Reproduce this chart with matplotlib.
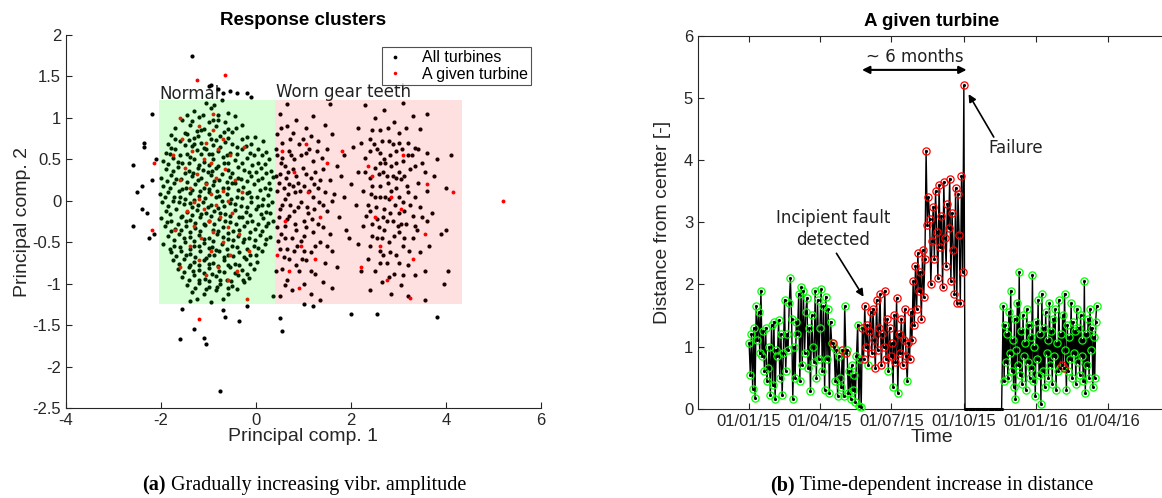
import numpy as np
import matplotlib
matplotlib.use("Agg")
import matplotlib.pyplot as plt
from matplotlib.patches import Rectangle

plt.rcParams['font.family'] = ['Liberation Sans', 'DejaVu Sans']

# ---------------------------------------------------------------------------
# (a) PCA scores of the vibration response
# ---------------------------------------------------------------------------
normal_pts = [
    (-1.05, 1.18), (-0.72, 1.21), (-0.88, 1.15), (-1.3, 1.08), (-0.95, 1.12), (-0.6, 1.06), (-1.12, 1.03),
    (-1.55, 0.98), (-1.2, 1.01), (-0.8, 0.97), (-0.45, 1.02), (-1.0, 0.95),
    (-1.7, 0.88), (-1.4, 0.92), (-1.1, 0.86), (-0.85, 0.9), (-0.6, 0.87), (-0.3, 0.91), (-1.25, 0.84),
    (-1.8, 0.79), (-1.5, 0.82), (-1.3, 0.76), (-1.0, 0.8), (-0.75, 0.78), (-0.5, 0.83), (-0.2, 0.77), (-0.95, 0.74),
    (-1.85, 0.68), (-1.6, 0.72), (-1.35, 0.66), (-1.15, 0.7), (-0.9, 0.67), (-0.65, 0.71), (-0.4, 0.65), (-0.1, 0.69),
    (-1.05, 0.63), (0.15, 0.72),
    (-1.9, 0.58), (-1.7, 0.62), (-1.45, 0.57), (-1.25, 0.61), (-1.0, 0.56), (-0.8, 0.6), (-0.55, 0.58), (-0.3, 0.62),
    (-0.05, 0.55), (0.2, 0.59), (-0.7, 0.53),
    (-1.95, 0.48), (-1.75, 0.52), (-1.55, 0.46), (-1.3, 0.51), (-1.1, 0.47), (-0.9, 0.5), (-0.68, 0.45), (-0.45, 0.49),
    (-0.2, 0.52), (0.05, 0.46), (0.28, 0.5), (-1.2, 0.43), (-0.8, 0.42),
    (-1.9, 0.38), (-1.65, 0.41), (-1.42, 0.36), (-1.22, 0.39), (-1.02, 0.35), (-0.85, 0.4), (-0.6, 0.37), (-0.38, 0.41),
    (-0.15, 0.35), (0.1, 0.39), (0.32, 0.36), (-1.5, 0.33), (-0.72, 0.32),
    (-2.0, 0.28), (-1.8, 0.31), (-1.58, 0.26), (-1.35, 0.3), (-1.15, 0.27), (-0.95, 0.31), (-0.78, 0.25), (-0.55, 0.29),
    (-0.32, 0.26), (-0.1, 0.3), (0.12, 0.27), (0.35, 0.29), (-1.05, 0.22), (-0.45, 0.22),
    (-1.95, 0.18), (-1.72, 0.21), (-1.48, 0.16), (-1.28, 0.2), (-1.1, 0.15), (-0.9, 0.19), (-0.7, 0.16), (-0.5, 0.21),
    (-0.28, 0.17), (-0.05, 0.2), (0.18, 0.16), (-1.62, 0.12), (-0.82, 0.12), (-0.15, 0.11),
    (-2.02, 0.08), (-1.85, 0.1), (-1.6, 0.05), (-1.4, 0.09), (-1.2, 0.06), (-1.0, 0.1), (-0.85, 0.04), (-0.62, 0.08),
    (-0.4, 0.05), (-0.2, 0.09), (0.02, 0.04), (0.25, 0.07), (-1.3, 0.01), (-0.72, 0.0),
    (-1.98, -0.02), (-1.75, 0.0), (-1.52, -0.04), (-1.12, -0.01), (-0.95, -0.05), (-0.55, -0.03), (-0.32, -0.06),
    (-0.1, -0.02), (0.12, -0.05), (0.33, -0.01), (-1.35, -0.08), (-0.8, -0.09),
    (-1.9, -0.12), (-1.68, -0.1), (-1.45, -0.14), (-1.25, -0.11), (-1.05, -0.15), (-0.88, -0.12), (-0.65, -0.16),
    (-0.45, -0.11), (-0.22, -0.14), (0.0, -0.1), (0.22, -0.13), (-1.55, -0.18), (-0.35, -0.19),
    (-2.0, -0.21), (-1.78, -0.24), (-1.58, -0.2), (-1.38, -0.23), (-1.18, -0.19), (-0.98, -0.25), (-0.78, -0.22),
    (-0.55, -0.26), (-0.3, -0.2), (-0.08, -0.24), (0.15, -0.21), (0.36, -0.25), (-1.1, -0.28),
    (-1.92, -0.31), (-1.7, -0.34), (-1.48, -0.3), (-1.28, -0.33), (-1.08, -0.29), (-0.9, -0.35), (-0.7, -0.32),
    (-0.48, -0.36), (-0.25, -0.3), (-0.02, -0.34), (0.2, -0.31), (-0.6, -0.39),
    (-1.85, -0.42), (-1.62, -0.4), (-1.4, -0.44), (-1.2, -0.41), (-1.0, -0.45), (-0.82, -0.4), (-0.6, -0.46),
    (-0.38, -0.42), (-0.15, -0.45), (0.08, -0.41), (0.3, -0.44), (-1.3, -0.48),
    (-1.95, -0.52), (-1.72, -0.55), (-1.5, -0.5), (-1.3, -0.54), (-1.1, -0.51), (-0.92, -0.56), (-0.72, -0.52),
    (-0.5, -0.55), (-0.28, -0.5), (-0.05, -0.54), (0.18, -0.52), (-0.85, -0.59),
    (-1.8, -0.62), (-1.58, -0.6), (-1.38, -0.64), (-1.18, -0.61), (-0.98, -0.65), (-0.78, -0.6), (-0.58, -0.66),
    (-0.35, -0.62), (-0.12, -0.65), (0.12, -0.61), (-1.05, -0.69),
    (-1.75, -0.72), (-1.52, -0.7), (-1.3, -0.74), (-1.1, -0.71), (-0.9, -0.75), (-0.68, -0.72), (-0.45, -0.76),
    (-0.22, -0.7), (0.02, -0.74), (-0.8, -0.79),
    (-1.65, -0.82), (-1.42, -0.8), (-1.2, -0.84), (-1.0, -0.81), (-0.78, -0.85), (-0.55, -0.8), (-0.3, -0.84),
    (-0.05, -0.82), (-0.92, -0.88),
    (-1.55, -0.92), (-1.3, -0.9), (-1.08, -0.94), (-0.85, -0.91), (-0.62, -0.95), (-0.38, -0.9), (-0.15, -0.93),
    (-1.45, -1.02), (-1.2, -0.99), (-0.98, -1.04), (-0.75, -1.0), (-0.5, -1.03), (-0.25, -0.98),
    (-1.35, -1.1), (-1.1, -1.13), (-0.85, -1.08), (-0.6, -1.12), (-0.4, -1.07),
    (-1.25, -1.19), (-0.95, -1.22), (-0.7, -1.18), (-1.4, -1.21),
]

normal_core_pts = [
    (-1.15, 0.85), (-0.68, 0.83), (-0.42, 0.88), (-1.45, 0.8),
    (-1.7, 0.75), (-1.42, 0.73), (-1.22, 0.78), (-0.85, 0.73), (-0.58, 0.76), (-0.3, 0.74), (-0.02, 0.77),
    (-1.78, 0.64), (-1.5, 0.67), (-1.3, 0.69), (-1.1, 0.64), (-0.75, 0.65), (-0.5, 0.68), (-0.22, 0.66), (0.05, 0.63),
    (-1.82, 0.56), (-1.6, 0.55), (-1.38, 0.53), (-1.15, 0.56), (-0.92, 0.57), (-0.62, 0.55), (-0.4, 0.56),
    (-0.12, 0.58), (0.12, 0.55),
    (-1.85, 0.44), (-1.65, 0.47), (-1.42, 0.45), (-1.0, 0.43), (-0.58, 0.46), (-0.3, 0.45), (-0.08, 0.43), (0.18, 0.44),
    (-1.75, 0.36), (-1.32, 0.34), (-1.12, 0.37), (-0.92, 0.36), (-0.5, 0.34), (-0.25, 0.37), (0.0, 0.35), (0.22, 0.33),
    (-1.88, 0.24), (-1.68, 0.26), (-1.45, 0.23), (-1.22, 0.25), (-0.88, 0.24), (-0.62, 0.23), (-0.38, 0.27),
    (-0.18, 0.24), (0.05, 0.25), (0.28, 0.22),
    (-1.82, 0.15), (-1.55, 0.14), (-1.35, 0.13), (-1.18, 0.12), (-0.98, 0.14), (-0.6, 0.15), (-0.38, 0.13),
    (0.08, 0.13), (0.3, 0.14),
    (-1.92, 0.04), (-1.72, 0.05), (-1.5, 0.02), (-1.08, 0.03), (-0.78, 0.06), (-0.52, 0.02), (-0.3, 0.03),
    (-0.1, 0.05), (0.15, 0.02), (-1.62, -0.02),
    (-1.85, -0.06), (-1.4, -0.03), (-1.22, -0.05), (-1.02, -0.07), (-0.68, -0.06), (-0.45, -0.04), (-0.2, -0.07),
    (0.05, -0.06), (0.25, -0.05),
    (-1.82, -0.16), (-1.35, -0.17), (-1.15, -0.16), (-0.95, -0.18), (-0.75, -0.15), (-0.55, -0.18), (-0.12, -0.17),
    (0.1, -0.16), (0.3, -0.15),
    (-1.88, -0.26), (-1.65, -0.28), (-1.48, -0.25), (-1.28, -0.27), (-0.88, -0.28), (-0.65, -0.25), (-0.42, -0.28),
    (-0.18, -0.26), (0.05, -0.28), (0.26, -0.27),
    (-1.8, -0.37), (-1.58, -0.35), (-1.38, -0.38), (-1.18, -0.36), (-0.8, -0.36), (-0.35, -0.35), (-0.12, -0.38),
    (0.12, -0.36),
    (-1.72, -0.47), (-1.52, -0.45), (-1.1, -0.46), (-0.9, -0.48), (-0.7, -0.44), (-0.48, -0.47), (-0.25, -0.46),
    (-0.02, -0.47), (0.22, -0.46),
    (-1.82, -0.58), (-1.6, -0.56), (-1.4, -0.58), (-1.2, -0.55), (-1.0, -0.57), (-0.62, -0.58), (-0.4, -0.56),
    (-0.18, -0.58), (0.05, -0.57),
    (-1.68, -0.67), (-1.48, -0.66), (-1.28, -0.68), (-0.88, -0.66), (-0.68, -0.68), (-0.48, -0.67), (-0.25, -0.68),
    (0.0, -0.66),
    (-1.62, -0.76), (-1.4, -0.78), (-1.2, -0.77), (-1.0, -0.76), (-0.58, -0.77), (-0.35, -0.78), (-0.12, -0.76),
    (-1.52, -0.86), (-1.32, -0.85), (-1.1, -0.87), (-0.68, -0.86), (-0.45, -0.87), (-0.2, -0.88),
    (-1.42, -0.96), (-1.2, -0.95), (-0.98, -0.97), (-0.75, -0.95), (-0.52, -0.97), (-0.28, -0.95),
    (-1.28, -1.05), (-1.05, -1.06), (-0.82, -1.04), (-0.58, -1.05),
    (-1.35, 0.96), (-0.65, 0.95), (-0.9, 0.98), (-0.8, 1.04), (-1.45, 1.03),
]

worn_mid_pts = [
    (0.5, 1.05), (0.85, 0.98), (1.2, 1.02), (0.65, 0.9), (1.05, 0.88), (1.45, 0.92), (0.45, 0.8), (0.78, 0.82),
    (1.15, 0.78), (1.6, 0.8), (0.55, 0.7), (0.9, 0.68), (1.3, 0.72), (0.7, 0.6), (1.05, 0.58), (1.5, 0.62),
    (0.45, 0.55), (1.85, 0.55), (0.8, 0.5), (1.2, 0.48), (0.6, 0.42), (0.98, 0.4), (1.4, 0.38), (1.7, 0.42),
    (0.5, 0.32), (0.85, 0.3), (1.15, 0.28), (1.55, 0.25), (0.7, 0.2), (1.0, 0.18), (1.3, 0.15), (0.45, 0.12),
    (0.82, 0.1), (1.2, 0.05), (1.65, 0.08), (0.6, 0.02), (0.95, -0.02), (1.4, -0.05), (0.5, -0.1), (0.8, -0.12),
    (1.1, -0.15), (1.5, -0.12), (0.65, -0.22), (1.0, -0.25), (1.3, -0.28), (1.75, -0.2), (0.45, -0.32),
    (0.85, -0.35), (1.2, -0.38), (1.55, -0.4), (0.6, -0.45), (0.95, -0.48), (1.35, -0.5), (0.5, -0.58),
    (0.8, -0.6), (1.15, -0.62), (1.6, -0.6), (0.7, -0.7), (1.05, -0.72), (1.45, -0.75), (0.55, -0.82),
    (0.9, -0.85), (1.25, -0.88), (0.65, -0.95), (1.0, -1.0), (1.4, -0.98), (0.75, -1.08), (1.15, -1.12),
    (0.5, -1.15), (1.6, -1.05), (0.42, 0.62), (0.58, 0.15), (0.72, -0.05), (0.88, 0.22), (1.08, -0.08),
    (1.25, 0.35), (0.62, -0.3), (0.78, 0.38), (1.02, -0.42), (0.52, 0.45), (0.92, 0.12), (1.18, -0.22),
    (0.68, 0.08), (0.48, -0.2), (0.86, -0.55), (1.32, -0.02), (0.74, 0.55), (1.12, 0.62), (1.78, 0.3),
    (1.9, -0.35), (1.7, -0.8), (1.85, 0.05), (0.58, -0.68), (0.98, 0.75), (1.38, 0.52), (0.46, -0.48),
    (0.82, -0.28), (1.22, 0.2), (0.64, 0.28), (0.96, -0.7),
    (0.52, 0.88), (0.72, 0.75), (0.95, 0.55), (1.28, 0.6), (0.55, 0.52), (0.68, 0.35), (1.05, 0.32),
    (1.35, 0.25), (0.48, 0.22), (0.78, 0.18), (1.12, 0.12), (1.45, 0.1), (0.55, -0.05), (0.88, -0.08),
    (1.22, -0.1), (0.7, -0.18), (1.05, -0.32), (1.4, -0.32), (0.52, -0.4), (0.75, -0.45), (1.25, -0.55),
    (0.65, -0.58), (1.0, -0.6), (0.85, -0.78), (1.15, -0.85), (0.6, -1.02), (0.42, -0.85), (1.5, -0.55),
    (1.6, 0.0), (0.42, 0.3),
]

worn_far_pts = [
    (2.3, 1.15), (2.7, 1.1), (3.1, 1.18), (2.5, 1.0), (2.9, 0.95), (3.3, 1.02), (2.15, 0.88), (2.6, 0.85),
    (3.0, 0.82), (3.45, 0.86), (2.4, 0.75), (2.8, 0.72), (3.2, 0.7), (2.05, 0.65), (2.55, 0.62), (2.95, 0.6),
    (3.35, 0.64), (3.6, 0.58), (2.3, 0.52), (2.7, 0.5), (3.1, 0.48), (2.5, 0.4), (2.85, 0.42), (3.25, 0.38),
    (2.15, 0.35), (3.55, 0.35), (2.4, 0.28), (2.75, 0.3), (3.05, 0.26), (3.4, 0.22), (2.6, 0.18), (2.95, 0.15),
    (2.25, 0.12), (3.2, 0.1), (3.6, 0.12), (2.5, 0.05), (2.8, 0.02), (3.1, -0.02), (2.1, -0.05), (3.45, -0.08),
    (2.4, -0.12), (2.7, -0.1), (3.0, -0.15), (3.3, -0.18), (2.55, -0.22), (2.88, -0.25), (3.15, -0.28),
    (2.25, -0.3), (3.6, -0.25), (2.7, -0.35), (3.0, -0.38), (2.45, -0.42), (3.3, -0.45), (2.8, -0.5),
    (2.15, -0.52), (3.1, -0.55), (2.6, -0.6), (2.95, -0.65), (3.45, -0.62), (2.35, -0.7), (2.75, -0.75),
    (3.2, -0.78), (2.5, -0.85), (2.9, -0.88), (3.35, -0.9), (2.65, -0.98), (3.05, -1.02), (2.4, -1.08),
    (2.85, -1.12), (3.2, -1.15), (2.62, 0.58), (2.78, 0.22), (2.92, -0.05), (2.68, -0.2), (3.02, 0.35),
    (2.52, -0.08), (2.88, 0.68), (3.12, -0.45), (2.58, 0.32), (2.82, -0.62), (3.28, 0.55), (2.42, 0.08),
    (3.18, 0.18), (2.72, 0.45), (2.98, -0.3), (2.32, -0.18), (3.38, -0.35), (2.65, -0.45), (3.08, 0.62),
    (2.48, 0.68), (2.95, 0.28), (2.72, 0.05), (3.25, -0.05), (2.58, -0.32), (2.85, 0.12), (3.5, 0.45),
    (3.7, -0.15), (3.75, 0.3), (2.0, 0.2), (1.95, -0.45), (3.65, -0.55), (3.55, -0.85), (2.2, -0.85),
    (3.8, 0.5), (3.9, -0.4),
    (2.45, 0.85), (2.78, 0.88), (3.15, 0.88), (2.65, 0.72), (3.0, 0.7), (2.4, 0.6), (2.82, 0.55), (3.2, 0.55),
    (2.6, 0.45), (2.95, 0.45), (3.35, 0.42), (2.45, 0.18), (2.68, 0.35), (2.88, 0.3), (3.12, 0.3), (2.62, 0.05),
    (3.0, 0.05), (3.35, 0.05), (2.35, -0.05), (2.82, -0.15), (3.12, -0.12), (2.45, -0.28), (2.75, -0.25),
    (3.05, -0.28), (3.35, -0.3), (2.55, -0.45), (2.9, -0.42), (3.22, -0.6), (2.68, -0.65), (3.0, -0.75),
    (2.4, -0.55), (2.6, -0.75), (2.8, -0.92), (3.1, -0.9), (2.3, 0.35), (3.5, -0.2), (3.42, 0.62), (2.2, 0.7),
]

outlier_pts = [
    (-2.6, 0.43), (-2.6, -0.3), (-2.5, 0.1), (-2.4, -0.1), (-2.35, 0.7), (-2.35, 0.65), (-2.3, -0.15),
    (-2.2, 1.05), (-2.2, 0.25), (-2.15, -0.4), (-2.1, 0.5), (-2.25, -0.45), (-2.4, 0.18),
    (-1.35, 1.75), (-1.0, 1.38), (-0.95, 1.4), (-0.7, 1.3), (-0.4, 1.3), (-0.55, 1.33), (-0.2, 1.3),
    (-0.1, 1.25), (-0.8, 1.35),
    (-1.55, -1.3), (-1.3, -1.55), (-1.6, -1.67), (-1.1, -1.65), (-1.05, -1.73), (-0.35, -1.45), (-0.65, -1.4),
    (-0.7, -1.32), (-0.75, -2.3), (-0.2, -1.27),
    (0.5, -1.42), (0.55, -1.57), (1.0, -1.25), (1.2, -1.27), (2.0, -1.37), (2.55, -1.37), (3.8, -1.4),
    (3.55, -1.2), (1.35, -1.2), (0.65, 1.17), (1.55, 1.17), (3.6, 1.05), (4.1, 0.55), (4.0, -0.35),
    (4.05, -0.85), (3.95, -1.0), (4.0, 0.15), (0.35, -1.15),
]

turbine_pts = [
    (-1.2, 0.9), (-0.9, 0.85), (-0.7, 0.75), (-1.05, 0.7), (-1.35, 0.6), (-0.8, 0.62), (-0.55, 0.55),
    (-1.1, 0.5), (-0.95, 0.45), (-1.5, 0.4), (-0.65, 0.38), (-1.25, 0.32), (-0.85, 0.28), (-0.45, 0.25),
    (-1.05, 0.2), (-1.4, 0.15), (-0.7, 0.12), (-0.95, 0.08), (-1.2, 0.02), (-0.6, 0.0), (-0.85, -0.05),
    (-1.1, -0.1), (-1.45, -0.12), (-0.5, -0.15), (-0.75, -0.2), (-1.0, -0.25), (-1.3, -0.3), (-0.6, -0.32),
    (-0.9, -0.38), (-1.15, -0.45), (-0.7, -0.5), (-1.4, -0.55), (-0.95, -0.6), (-0.55, -0.65), (-1.2, -0.72),
    (-0.8, -0.8), (-1.05, -0.9), (-0.6, -0.95), (-1.3, -0.02), (-0.3, 0.1), (-1.6, 0.25), (-0.35, -0.4),
    (-1.7, -0.35), (-0.25, 0.65), (-1.55, 0.75), (-0.9, 1.05), (-1.75, 0.55), (-0.15, -0.6), (-0.4, -0.85),
    (-1.6, -0.8),
    (-1.25, 1.46), (-0.65, 1.52), (-1.2, -1.43), (-2.2, -0.35), (-2.15, 0.45), (-0.2, -1.18), (-1.6, 1.0),
    (0.55, 0.6), (0.8, 0.35), (1.1, 0.1), (0.6, -0.25), (0.95, -0.55), (1.25, -0.7), (0.7, -0.85),
    (1.5, 0.45), (1.35, -0.2), (0.45, -0.65), (0.9, -1.05), (1.05, 0.68),
    (2.45, 0.3), (2.85, 0.05), (3.1, 0.55), (2.6, -0.55), (3.3, -0.7), (2.75, -0.95), (3.55, -0.4),
    (3.6, 0.2), (2.5, -0.2), (3.05, -0.1), (1.8, 0.6), (2.2, -0.8), (3.25, -1.17), (2.35, 0.42),
    (4.15, 0.1), (5.2, 0.0),
]

# cluster regions: (x0, x1), shared y-range
normal_span = (-2.04, 0.40)
worn_span = (0.40, 4.34)
region_y = (-1.25, 1.22)

# ---------------------------------------------------------------------------
# (b) Distance from the cluster centre for one turbine (days since 01/01/15)
# ---------------------------------------------------------------------------
pre_start, pre_step = 0.0, 1.5
pre_vals = [
    1.05, 0.55, 1.2, 0.32, 1.3, 0.18, 1.65, 1.1, 1.55, 0.9, 1.9, 0.85, 1.25, 0.6, 1.3, 0.45, 0.65, 1.0, 0.22, 1.35,
    0.38, 1.4, 0.15, 0.95, 0.85, 1.42, 0.5, 1.2, 0.22, 0.9, 1.75, 0.6, 1.2, 0.95, 1.7, 2.1, 1.45, 0.15, 1.0, 0.5,
    1.4, 1.2, 1.85, 0.45, 1.95, 0.7, 1.9, 0.9, 1.55, 1.78, 0.65, 1.3, 0.28, 1.5, 1.0, 0.75, 1.9, 0.5, 1.75, 0.8,
    1.3, 1.92, 0.6, 1.65, 0.3, 1.8, 0.8, 1.6, 0.25, 1.4, 1.05, 1.05, 1.0, 0.45, 0.95, 0.2, 0.85, 0.5, 0.35, 0.95,
    0.2, 1.65, 0.9, 0.95, 0.25, 0.6, 0.15, 0.7, 0.3, 0.55, 0.1, 0.85, 1.35, 0.05, 0.8, 0.02,
]
pre_fault_idx = [71, 79, 82]

fault_start, fault_step = 144.0, 1.5
fault_vals = [
    1.3, 0.8, 1.65, 1.0, 1.35, 0.7, 1.25, 1.55, 0.9, 1.6, 1.1, 0.65, 1.75, 0.95, 1.3, 1.85, 0.7, 1.2, 1.0, 1.9,
    0.8, 1.45, 0.6, 1.3, 0.85, 1.05, 0.35, 1.5, 0.75, 1.78, 0.25, 1.2, 0.9, 1.45, 0.7, 1.1, 1.6, 0.85, 0.45, 1.05,
    0.8, 1.55, 1.1, 2.05, 1.35, 2.3, 1.6, 2.5, 1.9, 2.2, 1.45, 2.55, 1.8, 2.4, 4.15, 2.95, 3.4, 3.05, 2.0, 2.7,
    3.25, 2.4, 3.5, 2.85, 2.1, 3.6, 2.6, 3.1, 1.95, 3.65, 2.75, 2.3, 3.3, 2.9, 3.7, 2.05, 3.15, 2.55, 1.85, 3.55,
    1.7, 3.45, 2.8, 1.7, 3.75, 2.2, 5.2,
]
fault_normal_idx = [5, 22, 26, 30, 38]

outage_start, outage_step = 274.5, 1.5
outage_vals = [0.0] * 32

post_start, post_step = 323.0, 1.2
post_vals = [
    1.65, 0.45, 1.35, 0.75, 1.2, 0.5, 1.55, 0.9, 1.9, 0.6, 1.1, 0.35, 1.45, 0.15, 0.95, 1.7, 0.7, 2.2, 0.55, 1.25,
    0.4, 1.5, 0.85, 1.05, 0.3, 1.6, 0.75, 1.35, 0.5, 1.15, 0.65, 2.15, 0.45, 1.0, 0.2, 1.4, 0.8, 1.75, 0.55, 1.2,
    0.08, 1.85, 0.6, 1.3, 0.35, 1.55, 0.9, 1.1, 0.5, 1.7, 0.7, 1.25, 0.4, 1.45, 0.85, 1.6, 0.3, 1.05, 0.6, 1.75,
    0.65, 1.2, 0.7, 1.5, 0.65, 1.85, 0.95, 0.3, 1.35, 0.6, 1.15, 0.8, 1.7, 0.5, 1.4, 0.9, 1.25, 0.4, 1.6, 0.75,
    1.3, 0.55, 1.5, 0.85, 1.1, 0.45, 2.05, 0.25, 1.2, 0.7, 1.45, 0.5, 1.6, 0.95, 1.3, 0.35, 1.15, 0.5, 1.4, 1.65,
]
post_fault_idx = [62, 64]

date_ticks = [0, 90, 181, 273, 365, 456]
date_labels = ['01/01/15', '01/04/15', '01/07/15', '01/10/15', '01/01/16', '01/04/16']

# ---------------------------------------------------------------------------
TXT = '#262626'
GREEN = (0.0, 1.0, 0.0)
RED = (1.0, 0.0, 0.0)
W, H = 1162, 498

fig = plt.figure(figsize=(W / 100, H / 100), dpi=100)


def style_axes(ax, box):
    for side in ('left', 'bottom'):
        ax.spines[side].set_color(TXT)
        ax.spines[side].set_linewidth(0.8)
    ax.spines['top'].set_visible(box)
    ax.spines['right'].set_visible(False)
    ax.spines['top'].set_color(TXT)
    ax.spines['top'].set_linewidth(0.8)
    ax.tick_params(direction='in', length=4, width=0.8, colors=TXT, labelsize=12,
                   top=box, right=False)


# ---------------- left panel ----------------
axL = fig.add_axes([66 / W, 1 - 408 / H, 475 / W, 373 / H])
style_axes(axL, box=False)

pts_all = np.array(normal_pts + normal_core_pts + worn_mid_pts + worn_far_pts + outlier_pts)
pts_one = np.array(turbine_pts)
axL.plot(pts_all[:, 0], pts_all[:, 1], 'o', ms=3.0, mew=0, color='black', zorder=2, label='All turbines')
axL.plot(pts_one[:, 0], pts_one[:, 1], 'o', ms=2.8, mew=0, color='red', zorder=2.5, label='A given turbine')

axL.add_patch(Rectangle((normal_span[0], region_y[0]), normal_span[1] - normal_span[0],
                        region_y[1] - region_y[0], facecolor=GREEN, alpha=0.16, lw=0, zorder=3))
axL.add_patch(Rectangle((worn_span[0], region_y[0]), worn_span[1] - worn_span[0],
                        region_y[1] - region_y[0], facecolor=RED, alpha=0.12, lw=0, zorder=3))
axL.text(normal_span[0], region_y[1] + 0.005, 'Normal', family='DejaVu Sans', fontsize=12,
         va='baseline', ha='left', color='#222222', zorder=1)
axL.text(worn_span[0] + 0.02, region_y[1] + 0.035, 'Worn gear teeth', family='DejaVu Sans', fontsize=12,
         va='baseline', ha='left', color='#222222', zorder=1)

axL.set_xlim(-4, 6)
axL.set_ylim(-2.5, 2)
axL.set_xticks([-4, -2, 0, 2, 4, 6])
axL.set_yticks([-2.5, -2, -1.5, -1, -0.5, 0, 0.5, 1, 1.5, 2])
axL.set_yticklabels(['-2.5', '-2', '-1.5', '-1', '-0.5', '0', '0.5', '1', '1.5', '2'])
axL.set_xticklabels(['-4', '-2', '0', '2', '4', '6'])
axL.set_xlabel('Principal comp. 1', fontsize=14, color=TXT, labelpad=0)
axL.set_ylabel('Principal comp. 2', fontsize=14, color=TXT, labelpad=1)
axL.set_title('Response clusters', fontsize=13.5, fontweight='bold', color='black', pad=7)

leg = axL.legend(loc='upper left', bbox_to_anchor=(0.666, 0.968), borderaxespad=0, fontsize=11.5,
                 frameon=True, fancybox=False, edgecolor=TXT, handlelength=1.2, handletextpad=1.1,
                 borderpad=0.2, labelspacing=0.1, markerscale=0.9)
leg.get_frame().set_linewidth(0.8)
leg.set_zorder(10)

# ---------------- right panel ----------------
axR = fig.add_axes([698 / W, 1 - 408.7 / H, 468 / W, 373 / H])
style_axes(axR, box=True)


def times(start, step, n):
    return start + step * np.arange(n)


t_pre = times(pre_start, pre_step, len(pre_vals))
t_fault = times(fault_start, fault_step, len(fault_vals))
t_out = times(outage_start, outage_step, len(outage_vals))
t_post = times(post_start, post_step, len(post_vals))

t_all = np.concatenate([t_pre, t_fault, t_out, t_post])
d_all = np.concatenate([pre_vals, fault_vals, outage_vals, post_vals])
axR.plot(t_all, d_all, '-', color='black', lw=1.0, zorder=2)

pre_red = np.isin(np.arange(len(pre_vals)), pre_fault_idx)
fault_green = np.isin(np.arange(len(fault_vals)), fault_normal_idx)
post_red = np.isin(np.arange(len(post_vals)), post_fault_idx)

t_green = np.concatenate([t_pre[~pre_red], t_fault[fault_green], t_post[~post_red]])
d_green = np.concatenate([np.array(pre_vals)[~pre_red], np.array(fault_vals)[fault_green],
                          np.array(post_vals)[~post_red]])
t_red = np.concatenate([t_pre[pre_red], t_fault[~fault_green], t_post[post_red]])
d_red = np.concatenate([np.array(pre_vals)[pre_red], np.array(fault_vals)[~fault_green],
                        np.array(post_vals)[post_red]])

axR.plot(t_green, d_green, 'o', ms=5.2, mfc='none', mec=GREEN, mew=0.9, zorder=3, clip_on=False)
axR.plot(t_red, d_red, 'o', ms=5.2, mfc='none', mec=RED, mew=0.9, zorder=3.5, clip_on=False)
axR.plot(t_all, d_all, '.', ms=2.5, color='black', zorder=4, clip_on=False)

axR.set_xlim(-65, 530)
axR.set_ylim(0, 6)
axR.set_xticks(date_ticks)
axR.set_xticklabels(date_labels)
axR.set_yticks(range(7))
axR.set_xlabel('Time', fontsize=14, color=TXT, labelpad=0)
axR.set_ylabel('Distance from center [-]', fontsize=14, color=TXT, labelpad=9)
axR.set_title('A given turbine', fontsize=13.5, fontweight='bold', color='black', pad=7,
              x=(932 - 698) / 468)

ann_font = dict(family='DejaVu Sans', fontsize=12, color='#222222')
axR.annotate('', xy=(143.5, 5.45), xytext=(276.5, 5.45),
             arrowprops=dict(arrowstyle='<|-|>', color='black', lw=1.5, mutation_scale=11,
                             shrinkA=0, shrinkB=0))
axR.text(211, 5.52, '~ 6 months', ha='center', va='bottom', **ann_font)
axR.annotate('', xy=(145.5, 1.80), xytext=(111, 2.50),
             arrowprops=dict(arrowstyle='-|>', color='black', lw=1.2, mutation_scale=11,
                             shrinkA=0, shrinkB=0))
axR.text(106.5, 2.89, 'Incipient fault\ndetected', ha='center', va='center', linespacing=1.25, **ann_font)
axR.annotate('', xy=(279, 5.06), xytext=(311, 4.37),
             arrowprops=dict(arrowstyle='-|>', color='black', lw=1.2, mutation_scale=11,
                             shrinkA=0, shrinkB=0))
axR.text(339, 4.19, 'Failure', ha='center', va='center', **ann_font)

# ---------------- sub-captions ----------------
renderer = fig.canvas.get_renderer()


def caption(cx, tag, rest, y=485):
    a = fig.text(0, 1 - y / H, tag, family='Liberation Serif', fontsize=14.5, fontweight='bold',
                 va='center', ha='left')
    b = fig.text(0, 1 - y / H, rest, family='Liberation Serif', fontsize=14.5, va='center', ha='left')
    wa = a.get_window_extent(renderer).width
    wb = b.get_window_extent(renderer).width
    x0 = cx - (wa + wb) / 2
    a.set_x(x0 / W)
    b.set_x((x0 + wa) / W)


caption(304, '(a)', ' Gradually increasing vibr. amplitude')
caption(932, '(b)', ' Time-dependent increase in distance')

fig.savefig('out.png', dpi=100)
